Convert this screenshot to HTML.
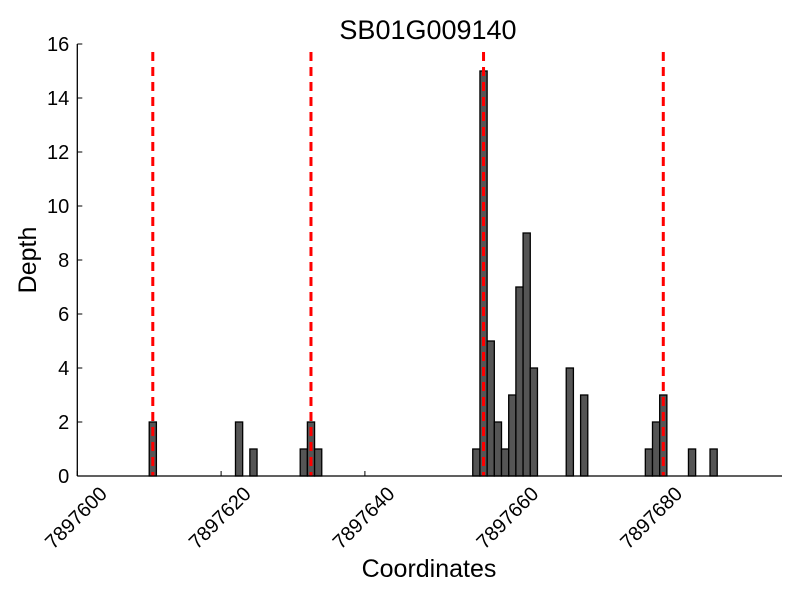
<!DOCTYPE html>
<html><head><meta charset="utf-8"><style>body{margin:0;background:#fff}svg{display:block;font-family:"Liberation Sans",sans-serif}</style></head>
<body>
<svg id="chart" width="800" height="600" xmlns="http://www.w3.org/2000/svg">
<text x="428" y="39" font-size="27" text-anchor="middle">SB01G009140</text>
<text x="429" y="577" font-size="25" text-anchor="middle">Coordinates</text>
<text transform="translate(36,260) rotate(-90)" font-size="25" text-anchor="middle">Depth</text>
<g id="bars"></g><g id="lines"></g><g id="axes"></g>
</svg>
<script>
const base = 7897600;
const positions = [10,22,24,31,32,33,55,56,57,58,59,60,61,62,63,68,70,79,80,81,85,88];
const depths =    [2,2,1,1,2,1,1,15,5,2,1,3,7,9,4,4,3,1,2,3,1,1];
const markerLines = [10.5,32.5,56.5,81.5];
const xTicks = [0,20,40,60,80];
const yTicks = [0,2,4,6,8,10,12,14,16];
const X0=77.3, XS=7.19, Y0=476, YS=27;
const xs = v => X0 + v*XS;
const ys = v => Y0 - v*YS;
const NS="http://www.w3.org/2000/svg";
function mk(t,a,p){const e=document.createElementNS(NS,t);for(const k in a)e.setAttribute(k,a[k]);p.appendChild(e);return e;}
const bars=document.getElementById('bars'),lines=document.getElementById('lines'),axes=document.getElementById('axes');
positions.forEach((p,i)=>{
  const r=mk('rect',{x:xs(p),y:ys(depths[i]),width:XS,height:depths[i]*YS,fill:'#555',stroke:'#000','stroke-width':1.3},bars);
  
  
});
markerLines.forEach(m=>{
  const l=mk('line',{x1:xs(m),x2:xs(m),y1:ys(16)+8,y2:Y0,stroke:'#f00','stroke-width':3,'stroke-dasharray':'9,6'},lines);
  
  
});
const a1=mk('line',{x1:X0,x2:X0,y1:ys(16),y2:Y0,stroke:'#000','stroke-width':1.3},axes);


const a2=mk('line',{x1:X0,x2:782,y1:Y0,y2:Y0,stroke:'#000','stroke-width':1.3},axes);


yTicks.forEach(v=>{
  mk('line',{x1:X0,x2:X0+5,y1:ys(v),y2:ys(v),stroke:'#000'},axes);
  const t=mk('text',{x:X0-8,y:ys(v)+7,'font-size':20,'text-anchor':'end'},axes);
  t.textContent=v;
  
  
});
xTicks.forEach(v=>{
  mk('line',{x1:xs(v),x2:xs(v),y1:Y0,y2:Y0-5,stroke:'#000'},axes);
  const t=mk('text',{transform:`translate(${xs(v)+31},${Y0+19}) rotate(-45)`,'font-size':20,'text-anchor':'end'},axes);
  t.textContent=base+v;
  
  
});
</script>
</body></html>
